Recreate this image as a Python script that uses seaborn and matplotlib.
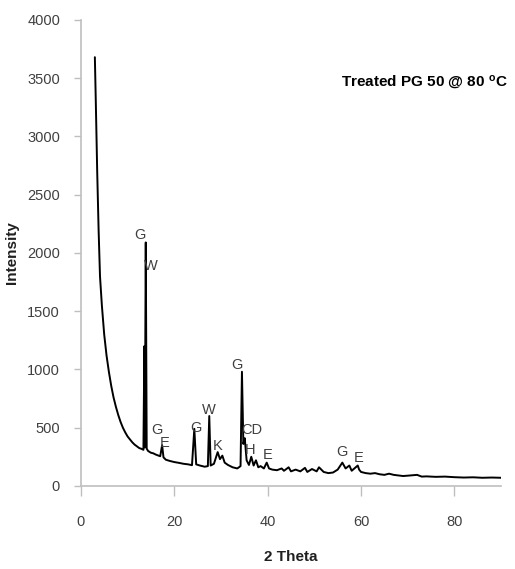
import matplotlib
matplotlib.use("Agg")
import matplotlib.pyplot as plt
import seaborn as sns
import pandas as pd

two_theta = [3.0, 3.2, 3.5, 3.8, 4.1, 4.5, 5.0, 5.5, 6.0, 6.5, 7.0, 7.5, 8.0, 8.5, 9.0, 9.5,
             10.0, 10.5, 11.0, 11.5, 12.0, 12.5, 13.0, 13.4, 13.6, 13.7, 13.9, 14.1, 14.4,
             15.0, 15.5, 16.0, 16.5, 17.0, 17.4, 17.7, 18.2, 19.0, 20.0, 21.0, 22.0, 23.0,
             23.8, 24.3, 24.7, 25.5, 26.5, 27.2, 27.5, 27.8, 28.5, 29.3, 29.8, 30.3, 30.8,
             31.5, 32.5, 33.5, 34.2, 34.5, 34.8, 35.1, 35.5, 36.0, 36.5, 37.0, 37.5, 38.0,
             38.5, 39.2, 39.8, 40.3, 41.0, 42.0, 43.0, 43.5, 44.5, 45.0, 46.0, 47.0, 48.0,
             48.5, 49.5, 50.5, 51.0, 52.0, 53.0, 54.0, 55.0, 56.0, 56.7, 57.5, 58.0, 59.3,
             59.6, 60.0, 61.0, 62.0, 63.0, 64.0, 65.0, 66.0, 67.0, 68.0, 69.0, 70.0, 72.0,
             73.0, 74.0, 76.0, 78.0, 80.0, 82.0, 84.0, 86.0, 88.0, 90.0]
intensity = [3680, 3300, 2700, 2200, 1800, 1550, 1300, 1120, 980, 860, 760, 680, 610, 550, 500, 460,
             425, 400, 375, 355, 340, 325, 318, 310, 1200, 330, 2090, 320, 300,
             285, 280, 270, 262, 255, 350, 245, 225, 215, 205, 198, 190, 185,
             178, 490, 185, 175, 165, 170, 600, 175, 190, 290, 230, 260, 200,
             180, 160, 150, 170, 980, 360, 410, 220, 180, 250, 175, 220, 160,
             170, 150, 200, 150, 140, 135, 150, 130, 160, 125, 140, 125, 155,
             120, 145, 125, 160, 120, 110, 115, 140, 200, 150, 175, 130, 175,
             140, 120, 110, 105, 110, 100, 95, 105, 95, 90, 85, 88, 95,
             80, 82, 78, 80, 75, 72, 74, 70, 72, 70]

peak_labels = ["G", "W", "G", "E", "G", "W", "K", "G", "CD", "H", "E", "G", "E"]
label_x = [12.6, 15.0, 16.3, 18.0, 24.6, 27.4, 29.3, 33.4, 36.6, 36.2, 40.0, 55.9, 59.5]
label_y = [2155, 1890, 480, 370, 500, 650, 340, 1040, 480, 310, 265, 290, 240]

x_ticks = [0, 20, 40, 60, 80]
y_ticks = [0, 500, 1000, 1500, 2000, 2500, 3000, 3500, 4000]

sns.set_style("white")
plt.rcParams["font.family"] = ["Liberation Sans", "DejaVu Sans"]
plt.rcParams["mathtext.default"] = "regular"

df = pd.DataFrame({"2 Theta": two_theta, "Intensity": intensity})

fig = plt.figure(figsize=(5.15, 5.69), dpi=100)
ax = fig.add_axes([0.157, 0.146, 0.816, 0.819])
sns.lineplot(data=df, x="2 Theta", y="Intensity", color="black", linewidth=1.4, ax=ax)

for lab, lx, ly in zip(peak_labels, label_x, label_y):
    ax.text(lx, ly, lab, ha="center", va="center", fontsize=10.5, color="#404040")

ax.set_xlim(0, 90)
ax.set_ylim(0, 4000)
ax.set_xticks(x_ticks)
ax.set_yticks(y_ticks)
ax.tick_params(axis="both", direction="out", length=5, width=1, color="#bfbfbf",
               labelcolor="#404040", labelsize=10.5, bottom=True, left=True)
ax.tick_params(axis="x", pad=14, length=7)
ax.tick_params(axis="y", pad=10)
for side in ["top", "right"]:
    ax.spines[side].set_visible(False)
for side in ["left", "bottom"]:
    ax.spines[side].set_color("#bfbfbf")
    ax.spines[side].set_linewidth(1.2)

ax.set_xlabel("2 Theta", fontsize=11, fontweight="bold", color="#202020", labelpad=15)
ax.set_ylabel("Intensity", fontsize=11, fontweight="bold", color="#202020", labelpad=6)
ax.text(1.017, 0.866, "Treated PG 50 @ 80 $^{o}$C", transform=ax.transAxes, ha="right",
        va="center", fontsize=11, fontweight="bold", color="black")

fig.savefig("out.png", dpi=100)
